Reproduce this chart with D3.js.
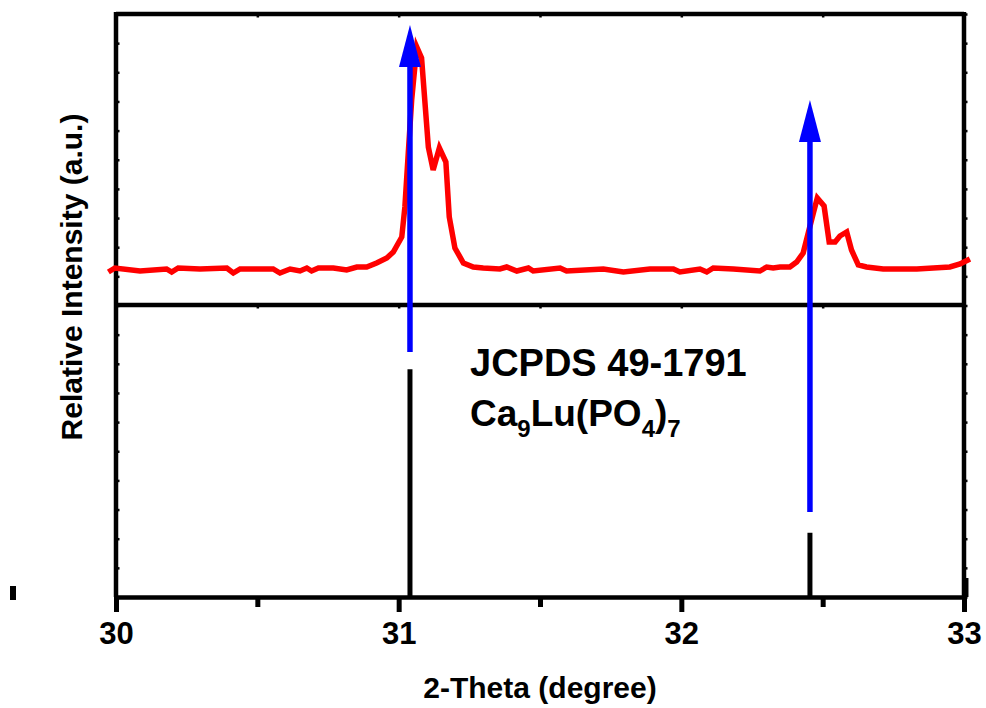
<!DOCTYPE html>
<html>
<head>
<meta charset="utf-8">
<script src="https://cdn.jsdelivr.net/npm/d3@7"></script>
<style>
  body { margin: 0; background: #fff; }
  text { font-family: "Liberation Sans", Arial, sans-serif; font-weight: bold; fill: #000; }
</style>
</head>
<body>
<svg width="986" height="708"></svg>
<script>
// measured XRD pattern (2-theta, intensity in a.u.)
const twoTheta = [29.973, 29.996, 30.085, 30.179, 30.197, 30.220, 30.297, 30.392, 30.415, 30.439,
  30.556, 30.580, 30.616, 30.651, 30.675, 30.692, 30.716, 30.769, 30.816, 30.852,
  30.887, 30.922, 30.958, 30.981, 31.011, 31.022, 31.034, 31.046, 31.064, 31.081,
  31.105, 31.122, 31.144, 31.167, 31.179, 31.199, 31.229, 31.264, 31.299, 31.358,
  31.382, 31.418, 31.459, 31.476, 31.571, 31.594, 31.724, 31.795, 31.889, 31.972,
  31.995, 32.066, 32.090, 32.113, 32.184, 32.278, 32.302, 32.325, 32.349, 32.384,
  32.408, 32.431, 32.449, 32.467, 32.481, 32.505, 32.523, 32.544, 32.561, 32.585,
  32.602, 32.626, 32.655, 32.714, 32.774, 32.833, 32.891, 32.950, 32.986, 33.021];
const intensity = [33, 37, 34, 36, 33, 37, 36, 37, 32, 36,
  36, 32, 36, 34, 37, 34, 37, 37, 35, 38,
  38, 42, 47, 53, 68, 98, 152, 205, 258, 247,
  158, 135, 157, 143, 88, 57, 42, 38, 37, 36,
  38, 34, 37, 34, 37, 34, 36, 33, 36, 36,
  33, 36, 33, 37, 36, 34, 38, 37, 38, 38,
  43, 52, 72, 92, 107, 99, 63, 63, 69, 73,
  55, 40, 38, 36, 36, 36, 37, 38, 41, 46];

// JCPDS 49-1791 reference lines
const refPos = [31.04, 32.455, 33.007];
const refInt = [78, 22, 6.5];

// arrows linking pattern peaks to reference lines
const arrowPos = [31.04, 32.455];
const arrowFrom = [-47, -207];
const arrowTo = [280, 205];

const xTicks = [30, 31, 32, 33];
const xMinor = [30.5, 31.5, 32.5];

const svg = d3.select("svg");
const L = 116, R = 964, T = 14, M = 305, B = 597;

const x = d3.scaleLinear().domain([30, 33]).range([L, R]);
const yTop = d3.scaleLinear().domain([0, 291]).range([M, T]);
const yRef = d3.scaleLinear().domain([0, 100]).range([B, M]);
const yFrame = d3.scaleLinear().domain([0, 20]).range([B, T]);

// minor ticks on side axes (barely stick out of the frame)
const leftAx = svg.append("g").attr("transform", `translate(${L},0)`)
  .call(d3.axisRight(yFrame).ticks(20).tickSize(3.5).tickFormat(""));
const rightAx = svg.append("g").attr("transform", `translate(${R},0)`)
  .call(d3.axisRight(yFrame).ticks(20).tickSize(3.5).tickFormat(""));
[leftAx, rightAx].forEach(g => {
  g.select(".domain").remove();
  g.selectAll(".tick line").attr("stroke-width", 2.5);
});

// small ticks on top and middle lines
[T, M].forEach(yy => {
  const g = svg.append("g").attr("transform", `translate(0,${yy})`)
    .call(d3.axisBottom(x).tickValues([30.5, 31, 31.5, 32, 32.5]).tickSize(3.5).tickFormat(""));
  g.select(".domain").remove();
  g.selectAll(".tick line").attr("stroke-width", 2.5);
});

// frame
svg.append("line").attr("x1", L).attr("x2", L).attr("y1", 12).attr("y2", B)
  .attr("stroke", "#000").attr("stroke-width", 4.5);
svg.append("line").attr("x1", R).attr("x2", R).attr("y1", 12).attr("y2", B)
  .attr("stroke", "#000").attr("stroke-width", 4.5);
svg.append("line").attr("x1", L).attr("x2", R).attr("y1", T).attr("y2", T)
  .attr("stroke", "#000").attr("stroke-width", 4.5);
svg.append("line").attr("x1", L).attr("x2", R).attr("y1", M).attr("y2", M)
  .attr("stroke", "#000").attr("stroke-width", 4.5);

// bottom axis
const xAx = svg.append("g").attr("transform", `translate(0,${B})`)
  .call(d3.axisBottom(x).tickValues(xTicks).tickSize(15).tickSizeOuter(0)
    .tickPadding(10).tickFormat(d3.format("d")));
xAx.select(".domain").attr("stroke-width", 4.5);
xAx.selectAll(".tick line").attr("stroke-width", 5);
xAx.selectAll(".tick text").attr("font-size", 31)
  .style("font-family", '"Liberation Sans", Arial, sans-serif').style("font-weight", "bold");

const xMin = svg.append("g").attr("transform", `translate(0,${B})`)
  .call(d3.axisBottom(x).tickValues(xMinor).tickSize(10).tickFormat(""));
xMin.select(".domain").remove();
xMin.selectAll(".tick line").attr("stroke-width", 5);

// stray mark left of the axis
svg.append("rect").attr("x", 10).attr("y", 586).attr("width", 6).attr("height", 14).attr("fill", "#000");

// reference lines
svg.selectAll(".ref").data(refPos).enter().append("line")
  .attr("class", "ref")
  .attr("x1", d => x(d)).attr("x2", d => x(d))
  .attr("y1", yRef(0)).attr("y2", (d, i) => yRef(refInt[i]))
  .attr("stroke", "#000").attr("stroke-width", 5);

// pattern
const pts = twoTheta.map((t, i) => [t, intensity[i]]);
svg.append("path").datum(pts)
  .attr("fill", "none").attr("stroke", "#ff0000").attr("stroke-width", 5.5)
  .attr("stroke-linejoin", "miter")
  .attr("d", d3.line().x(d => x(d[0])).y(d => yTop(d[1])));

// arrows
const headLen = 42, headW = 22;
arrowPos.forEach((p, i) => {
  const ax = x(p), y0 = yTop(arrowFrom[i]), y1 = yTop(arrowTo[i]);
  svg.append("line").attr("x1", ax).attr("x2", ax).attr("y1", y0).attr("y2", y1 + headLen - 2)
    .attr("stroke", "#0000ff").attr("stroke-width", 5.5);
  svg.append("path")
    .attr("d", `M${ax},${y1}L${ax - headW / 2},${y1 + headLen}L${ax + headW / 2},${y1 + headLen}Z`)
    .attr("fill", "#0000ff");
});

// annotation
svg.append("text").attr("x", 470).attr("y", 376).attr("font-size", 38).text("JCPDS 49-1791");
const f = svg.append("text").attr("x", 470).attr("y", 426).attr("font-size", 37);
f.append("tspan").text("Ca");
f.append("tspan").attr("font-size", 24).attr("dy", 11).text("9");
f.append("tspan").attr("dy", -11).text("Lu(PO");
f.append("tspan").attr("font-size", 24).attr("dy", 11).text("4");
f.append("tspan").attr("dy", -11).text(")");
f.append("tspan").attr("font-size", 24).attr("dy", 11).text("7");

// axis titles
svg.append("text").attr("x", 540).attr("y", 698).attr("text-anchor", "middle")
  .attr("font-size", 30).text("2-Theta (degree)");
svg.append("text").attr("transform", "translate(82,277) rotate(-90)")
  .attr("text-anchor", "middle").attr("font-size", 30).text("Relative Intensity (a.u.)");
</script>
</body>
</html>
